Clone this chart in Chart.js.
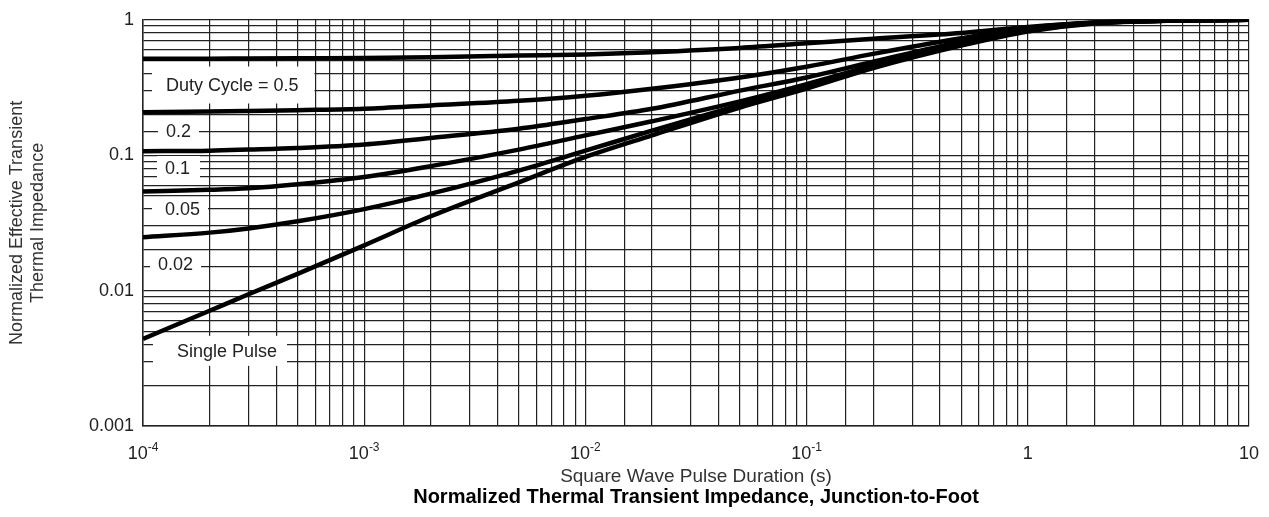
<!DOCTYPE html>
<html lang="en">
<head>
<meta charset="UTF-8">
<title>Normalized Thermal Transient Impedance, Junction-to-Foot</title>
<script src="https://cdn.jsdelivr.net/npm/chart.js"></script>
<style>
  html, body { margin: 0; padding: 0; background: #fff; }
  #wrap { width: 1269px; height: 517px; position: relative; }
</style>
</head>
<body>
<div id="wrap"><canvas id="zthChart"></canvas></div>
<script>
const pulseTimes = [1e-4, 2e-4, 3e-4, 5e-4, 1e-3, 2e-3, 5e-3, 1e-2, 2e-2, 5e-2, 0.1, 0.2, 0.5, 1, 2, 5, 10];

// normalized Zth per duty cycle
const duty05   = [0.515, 0.516, 0.518, 0.52, 0.522, 0.53, 0.545, 0.555, 0.577, 0.62, 0.67, 0.725, 0.8, 0.885, 0.95, 0.99, 1.0];
const duty02   = [0.208, 0.21, 0.212, 0.215, 0.22, 0.233, 0.252, 0.275, 0.31, 0.375, 0.45, 0.56, 0.73, 0.87, 0.955, 0.99, 1.0];
const duty01   = [0.107, 0.108, 0.11, 0.113, 0.12, 0.134, 0.157, 0.185, 0.22, 0.3, 0.375, 0.49, 0.69, 0.85, 0.95, 0.99, 1.0];
const duty005  = [0.054, 0.0555, 0.057, 0.061, 0.069, 0.083, 0.11, 0.14, 0.178, 0.25, 0.335, 0.46, 0.67, 0.84, 0.95, 0.99, 1.0];
const duty002  = [0.0248, 0.0268, 0.0288, 0.0325, 0.040, 0.052, 0.077, 0.108, 0.152, 0.235, 0.32, 0.45, 0.66, 0.83, 0.945, 0.99, 1.0];
const single   = [0.0044, 0.0071, 0.0094, 0.0133, 0.0216, 0.0354, 0.063, 0.097, 0.14, 0.225, 0.31, 0.44, 0.645, 0.82, 0.94, 0.99, 1.0];

// axis tick labels
const xTickValues = [1e-4, 1e-3, 1e-2, 1e-1, 1, 10];
const xTickBase   = ['10', '10', '10', '10', '1', '10'];
const xTickExp    = ['-4', '-3', '-2', '-1', '', ''];
const yTickValues = [1, 0.1, 0.01, 0.001];
const yTickText   = ['1', '0.1', '0.01', '0.001'];

const chartTitle = 'Normalized Thermal Transient Impedance, Junction-to-Foot';

// curve labels (anchored in data coordinates: left edge of text, vertical centre)
const curveLabels = ['Duty Cycle = 0.5', '0.2', '0.1', '0.05', '0.02', 'Single Pulse'];
const labelAtX    = [1.27e-4, 1.27e-4, 1.257e-4, 1.257e-4, 1.169e-4, 1.424e-4];
const labelAtY    = [0.33, 0.15, 0.0804, 0.0397, 0.0157, 0.00359];

const TXT = '#222';
const FONT = "'Liberation Sans', Arial, Helvetica, sans-serif";

// white label boxes: [padLeft, padRight, halfHeight]
const labelBoxPad = [[14, 16, 18.5], [8, 8, 12], [8, 10, 12], [13, 8, 11], [8, 8, 12], [24, 10, 15]];

const toPts = ys => pulseTimes.map((t, i) => ({ x: t, y: ys[i] }));

const series = [duty05, duty02, duty01, duty005, duty002, single];

const labelPlugin = {
    id: 'curveLabels',
    beforeDatasetsDraw(chart) {
        const { ctx, scales: { x, y } } = chart;
        ctx.save();
        ctx.font = '18px ' + FONT;
        ctx.textBaseline = 'middle';
        curveLabels.forEach((txt, i) => {
            const px = x.getPixelForValue(labelAtX[i]);
            const py = y.getPixelForValue(labelAtY[i]);
            const w = ctx.measureText(txt).width;
            const [pl, pr, hh] = labelBoxPad[i];
            ctx.fillStyle = '#fff';
            ctx.fillRect(px - pl, py - hh, w + pl + pr, hh * 2);
            ctx.fillStyle = TXT;
            ctx.textAlign = 'left';
            ctx.fillText(txt, px, py + 1);
        });
        ctx.restore();
    },
    afterDraw(chart) {
        const { ctx, chartArea, scales: { x } } = chart;
        ctx.save();
        ctx.fillStyle = TXT;
        ctx.textBaseline = 'alphabetic';
        // x tick labels with superscript exponents
        const base = chartArea.bottom + 33;
        xTickValues.forEach((v, i) => {
            const px = x.getPixelForValue(v);
            ctx.font = '18px ' + FONT;
            const wb = ctx.measureText(xTickBase[i]).width;
            ctx.font = '12px ' + FONT;
            const we = xTickExp[i] ? ctx.measureText(xTickExp[i]).width : 0;
            const left = px - (wb + we) / 2;
            ctx.font = '18px ' + FONT;
            ctx.textAlign = 'left';
            ctx.fillText(xTickBase[i], left, base);
            if (xTickExp[i]) {
                ctx.font = '12px ' + FONT;
                ctx.fillText(xTickExp[i], left + wb, base - 8);
            }
        });
        // bold caption, centred under the plot area
        ctx.fillStyle = '#000';
        ctx.font = 'bold 20px ' + FONT;
        ctx.textAlign = 'center';
        ctx.textBaseline = 'middle';
        ctx.fillText(chartTitle, (chartArea.left + chartArea.right) / 2, chartArea.bottom + 71);
        ctx.restore();
    }
};

const isDecade = v => Math.abs(Math.log10(v) - Math.round(Math.log10(v))) < 1e-6;

new Chart(document.getElementById('zthChart'), {
    type: 'line',
    data: {
        datasets: series.map(s => ({
            data: toPts(s),
            borderColor: '#000',
            borderWidth: 4.5,
            pointRadius: 0,
            fill: false,
            cubicInterpolationMode: 'monotone'
        }))
    },
    options: {
        responsive: true,
        maintainAspectRatio: false,
        animation: false,
        layout: { padding: { left: 0, right: 20, top: 15, bottom: 4 } },
        plugins: {
            legend: { display: false },
            tooltip: { enabled: false },
            title: { display: false }
        },
        scales: {
            x: {
                type: 'logarithmic',
                min: 1e-4,
                max: 10,
                afterFit: s => { s.height = 87; },
                grid: { color: '#222', lineWidth: 1.2, drawTicks: false },
                border: { display: true, color: '#222', width: 1.5 },
                ticks: { display: false, autoSkip: false },
                title: {
                    display: true,
                    text: 'Square Wave Pulse Duration (s)',
                    color: '#333',
                    font: { family: FONT, size: 19, lineHeight: 1.0 },
                    padding: { top: 0, bottom: 27 }
                }
            },
            y: {
                type: 'logarithmic',
                min: 0.001,
                max: 1,
                afterFit: s => { s.width = 143; },
                grid: { color: '#222', lineWidth: 1.2, drawTicks: false },
                border: { display: true, color: '#222', width: 1.5 },
                ticks: {
                    autoSkip: false,
                    color: TXT,
                    padding: 9,
                    font: { family: FONT, size: 18 },
                    callback: v => {
                        if (!isDecade(v)) return '';
                        const k = yTickValues.findIndex(t => Math.abs(Math.log10(t) - Math.log10(v)) < 1e-6);
                        return k >= 0 ? yTickText[k] : '';
                    }
                },
                title: {
                    display: true,
                    text: ['Normalized Effective Transient', 'Thermal Impedance'],
                    color: '#333',
                    font: { family: FONT, size: 18, lineHeight: 1.15 },
                    padding: { top: 7, bottom: 0 }
                }
            }
        }
    },
    plugins: [labelPlugin]
});
</script>
</body>
</html>
